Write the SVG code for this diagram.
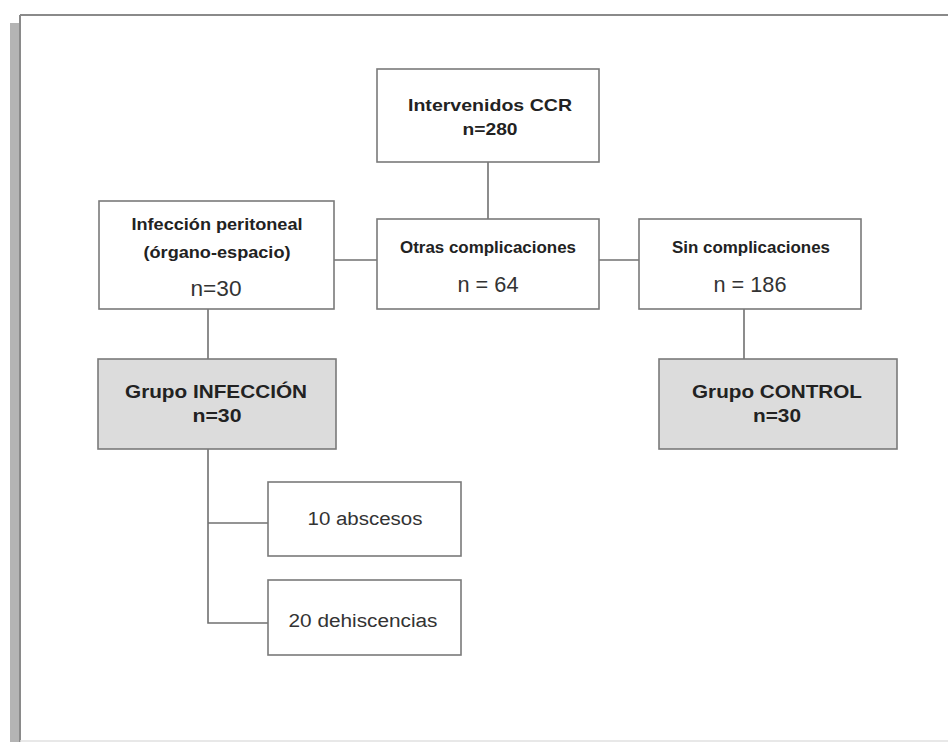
<svg xmlns="http://www.w3.org/2000/svg" width="948" height="742" viewBox="0 0 948 742">
<style>
.box{fill:#fff;stroke:#7a7a7a;stroke-width:1.6}
.grp{fill:#dcdcdc;stroke:#7a7a7a;stroke-width:1.6}
.b{font-family:"Liberation Sans",Arial,sans-serif;font-weight:bold;fill:#222;text-anchor:middle}
.r{font-family:"Liberation Sans",Arial,sans-serif;fill:#333;text-anchor:middle}
.con line,.con polyline{stroke:#707070;stroke-width:1.6;fill:none}
</style>
<rect width="948" height="742" fill="#fff"/>
<g id="frame">
<rect x="10" y="23" width="9" height="719" fill="#b4b4b4"/>
<line x1="20" y1="15" x2="948" y2="15" stroke="#8a8a8a" stroke-width="2"/>
<line x1="20" y1="15" x2="20" y2="742" stroke="#8a8a8a" stroke-width="2"/>
<line x1="20" y1="741" x2="948" y2="741" stroke="#e0e0e0" stroke-width="1.5"/>
</g>
<g class="con" id="connectors">
<line x1="488" y1="162" x2="488" y2="219"/>
<line x1="334" y1="260" x2="377" y2="260"/>
<line x1="599" y1="260" x2="639" y2="260"/>
<line x1="744" y1="309" x2="744" y2="359"/>
<line x1="208" y1="309" x2="208" y2="359"/>
<polyline points="208,449 208,623 268,623"/>
<line x1="208" y1="523" x2="268" y2="523"/>
</g>
<g id="n-intervenidos">
<rect class="box" x="377" y="69" width="222" height="93"/>
<text class="b" x="490" y="111" font-size="17" textLength="164" lengthAdjust="spacingAndGlyphs">Intervenidos CCR</text>
<text class="b" x="490" y="135" font-size="17" textLength="55" lengthAdjust="spacingAndGlyphs">n=280</text>
</g>
<g id="n-infeccion-peritoneal">
<rect class="box" x="99" y="201" width="235" height="108"/>
<text class="b" x="217" y="230" font-size="16" textLength="171" lengthAdjust="spacingAndGlyphs">Infección peritoneal</text>
<text class="b" x="217" y="258" font-size="16" textLength="147" lengthAdjust="spacingAndGlyphs">(órgano-espacio)</text>
<text class="r" x="216" y="296" font-size="22" textLength="51" lengthAdjust="spacingAndGlyphs">n=30</text>
</g>
<g id="n-otras">
<rect class="box" x="377" y="219" width="222" height="90"/>
<text class="b" x="488" y="253" font-size="17" textLength="176" lengthAdjust="spacingAndGlyphs">Otras complicaciones</text>
<text class="r" x="488" y="292" font-size="22" textLength="61" lengthAdjust="spacingAndGlyphs">n = 64</text>
</g>
<g id="n-sin">
<rect class="box" x="639" y="219" width="222" height="90"/>
<text class="b" x="751" y="253" font-size="17" textLength="158" lengthAdjust="spacingAndGlyphs">Sin complicaciones</text>
<text class="r" x="750" y="292" font-size="22" textLength="73" lengthAdjust="spacingAndGlyphs">n = 186</text>
</g>
<g id="n-grupo-infeccion">
<rect class="grp" x="98" y="359" width="238" height="90"/>
<text class="b" x="216" y="398" font-size="18" textLength="182" lengthAdjust="spacingAndGlyphs">Grupo INFECCIÓN</text>
<text class="b" x="217" y="422" font-size="18" textLength="49" lengthAdjust="spacingAndGlyphs">n=30</text>
</g>
<g id="n-grupo-control">
<rect class="grp" x="659" y="359" width="238" height="90"/>
<text class="b" x="777" y="398" font-size="18" textLength="170" lengthAdjust="spacingAndGlyphs">Grupo CONTROL</text>
<text class="b" x="777" y="422" font-size="18" textLength="48" lengthAdjust="spacingAndGlyphs">n=30</text>
</g>
<g id="n-abscesos">
<rect class="box" x="268" y="482" width="193" height="74"/>
<text class="r" x="365" y="525" font-size="18" textLength="115" lengthAdjust="spacingAndGlyphs">10 abscesos</text>
</g>
<g id="n-dehiscencias">
<rect class="box" x="268" y="580" width="193" height="75"/>
<text class="r" x="363" y="627" font-size="18" textLength="149" lengthAdjust="spacingAndGlyphs">20 dehiscencias</text>
</g>
</svg>
